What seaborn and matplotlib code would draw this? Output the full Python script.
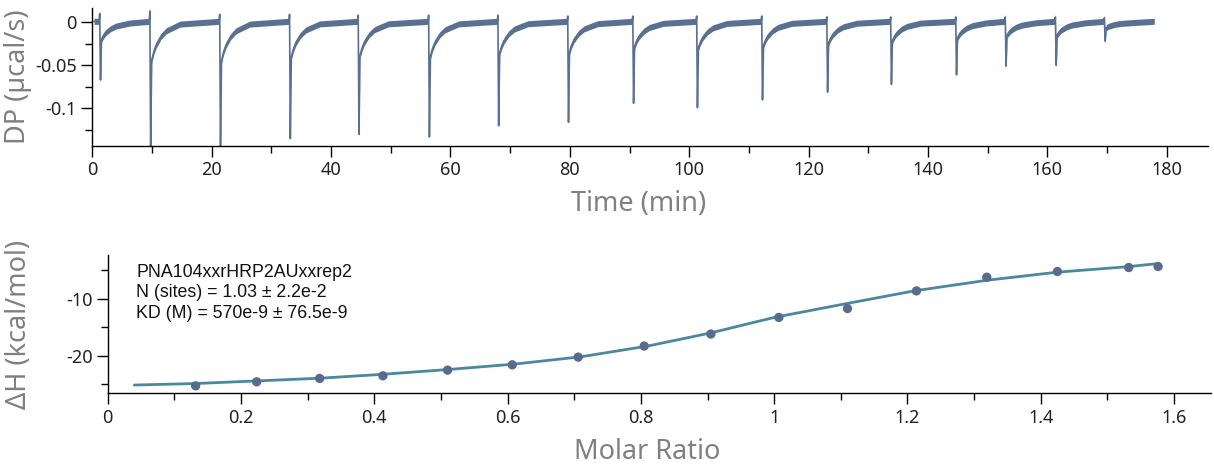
import numpy as np
import pandas as pd
import matplotlib
matplotlib.use("Agg")
import matplotlib.pyplot as plt
from matplotlib.ticker import MultipleLocator, FuncFormatter
import seaborn as sns

# --- thermogram ---
inj_time = [1.3, 9.7, 21.4, 33.1, 44.6, 56.4, 68.0, 79.7, 90.6, 101.3, 112.2,
            123.1, 133.8, 144.7, 153.0, 161.4, 169.6]
inj_min = [-0.067, -0.150, -0.150, -0.135, -0.130, -0.133, -0.120, -0.116, -0.094,
           -0.099, -0.090, -0.081, -0.072, -0.061, -0.051, -0.050, -0.022]
pre_kick = [0.010, 0.013, 0.009, 0.009, 0.008, 0.008, 0.008, 0.007, 0.007,
            0.007, 0.007, 0.006, 0.006, 0.006, 0.006, 0.006, 0.005]
rec_dt = [0.25, 0.6, 1.0, 1.8, 2.7, 5.0]
rec_dp = [-0.040, -0.031, -0.024, -0.015, -0.009, -0.002]
rec_depth = -0.135
run_start, run_end = 0.3, 177.9
base_dp = 0.001

# --- integrated heats and fit ---
molar_ratio = [0.132, 0.2235, 0.318, 0.413, 0.51, 0.607, 0.706, 0.805, 0.905, 1.007,
               1.11, 1.2135, 1.319, 1.425, 1.532, 1.576]
dh = [-25.24, -24.54, -23.95, -23.49, -22.5, -21.57, -20.23, -18.3, -16.2, -13.3,
      -11.75, -8.67, -6.28, -5.29, -4.59, -4.41]
fit_x = [0.04, 0.13, 0.22, 0.32, 0.41, 0.51, 0.61, 0.71, 0.81, 0.905, 1.0,
         1.11, 1.21, 1.32, 1.425, 1.53, 1.576]
fit_y = [-25.1, -24.85, -24.4, -23.9, -23.25, -22.4, -21.45, -20.17, -18.3, -16.0, -13.3,
         -10.85, -8.67, -6.8, -5.4, -4.45, -3.9]

info = ["PNA104xxrHRP2AUxxrep2",
        "N (sites) = 1.03 \u00b1 2.2e-2",
        "KD (M) = 570e-9 \u00b1 76.5e-9"]

# build the thermogram point list
tt, dp = [run_start], [base_dp]
for t, m, k in zip(inj_time, inj_min, pre_kick):
    tt += [t - 0.15, t - 0.05, t + 0.08]
    dp += [base_dp, k, m]
    for dt, v in zip(rec_dt, rec_dp):
        tt.append(t + dt)
        dp.append(v * m / rec_depth)
tt.append(run_end)
dp.append(base_dp)
trace = pd.DataFrame({"time": tt, "dp": dp})

sns.set_style("white")
plt.rcParams["font.family"] = ["Noto Sans", "DejaVu Sans"]
plt.rcParams["axes.unicode_minus"] = False

trace_col = "#5a7091"
dot_col = "#5a6a8d"
fit_col = "#4a88a0"
label_col = "#808080"

fig = plt.figure(figsize=(12.14, 4.70), dpi=100)
ax1 = fig.add_axes([0.076, 0.690, 0.919, 0.292])
ax2 = fig.add_axes([0.0887, 0.163, 0.9086, 0.294])

ax1.fill_between(trace["time"], trace["dp"] - 0.0035, trace["dp"] + 0.0035,
                 color=trace_col, lw=0)
sns.lineplot(data=trace, x="time", y="dp", ax=ax1, color=trace_col, lw=1.2,
             sort=False, estimator=None)
ax1.set_xlim(0, 186.9)
ax1.set_ylim(-0.1432, 0.0159)
ax1.xaxis.set_major_locator(MultipleLocator(20))
ax1.xaxis.set_minor_locator(MultipleLocator(10))
ax1.yaxis.set_major_locator(MultipleLocator(0.05))
ax1.yaxis.set_minor_locator(MultipleLocator(0.025))
ax1.set_xlabel("Time (min)", fontsize=19.5, color=label_col)
ax1.set_ylabel("DP (\u00b5cal/s)", fontsize=19.5, color=label_col)
ax1.xaxis.set_label_coords(0.49, -0.32)
ax1.yaxis.set_label_coords(-0.054, 0.5)

sns.lineplot(x=fit_x, y=fit_y, ax=ax2, color=fit_col, lw=2.0)
sns.scatterplot(x=molar_ratio, y=dh, ax=ax2, color=dot_col, s=45, edgecolor="none", zorder=3)
ax2.set_xlim(0, 1.655)
ax2.set_ylim(-26.56, -2.44)
ax2.xaxis.set_major_locator(MultipleLocator(0.2))
ax2.xaxis.set_minor_locator(MultipleLocator(0.1))
ax2.yaxis.set_major_locator(MultipleLocator(10))
ax2.yaxis.set_minor_locator(MultipleLocator(5))
ax2.set_xlabel("Molar Ratio", fontsize=19.5, color=label_col)
ax2.set_ylabel("\u0394H (kcal/mol)", fontsize=19.5, color=label_col)
ax2.xaxis.set_label_coords(0.489, -0.32)
ax2.yaxis.set_label_coords(-0.0677, 0.5)
ax2.text(0.026, 0.935, "\n".join(info), transform=ax2.transAxes, va="top", ha="left",
         fontsize=12.8, family="Liberation Sans", color="#111111", linespacing=1.25)

fmt = FuncFormatter(lambda v, p: f"{v:g}")
for ax in (ax1, ax2):
    sns.despine(ax=ax)
    for s in ("left", "bottom"):
        ax.spines[s].set_color("black")
        ax.spines[s].set_linewidth(1.0)
    ax.xaxis.set_major_formatter(fmt)
    ax.yaxis.set_major_formatter(fmt)
    ax.tick_params(which="major", length=8, width=1, color="black", labelsize=13,
                   labelcolor="#222222", left=True, bottom=True, pad=3)
    ax.tick_params(which="minor", length=5, width=1, color="black", left=True, bottom=True)

fig.savefig("out.png", dpi=100)
